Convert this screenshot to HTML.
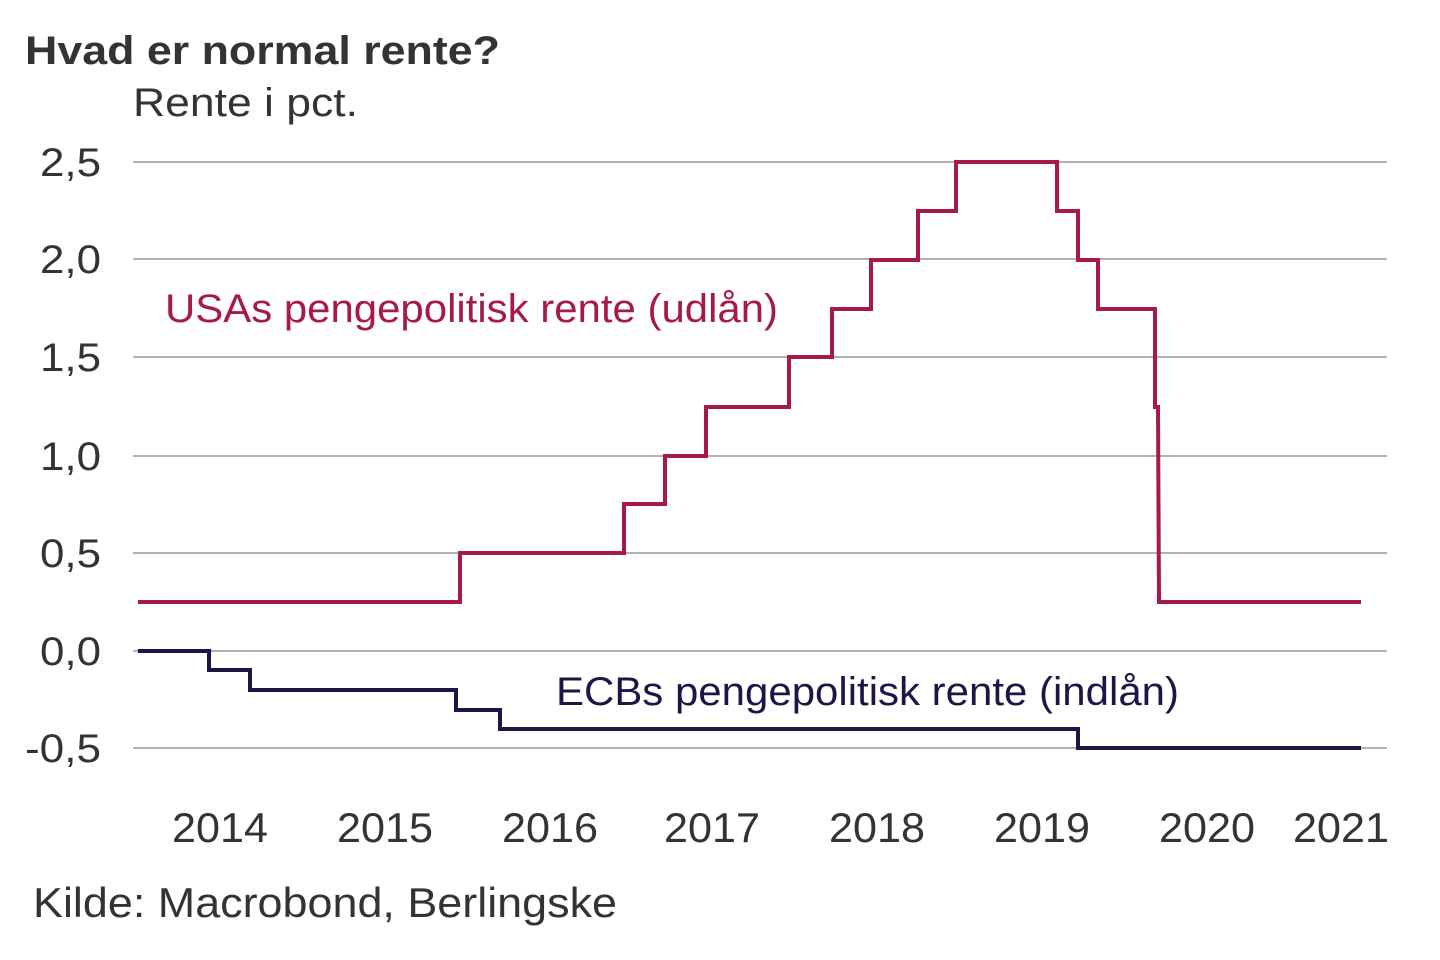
<!DOCTYPE html>
<html><head><meta charset="utf-8"><style>
html,body{margin:0;padding:0;background:#fff;}
svg{display:block;font-family:"Liberation Sans",Arial,sans-serif;}
</style></head><body>
<svg width="1440" height="960" viewBox="0 0 1440 960" xmlns="http://www.w3.org/2000/svg">
<rect width="1440" height="960" fill="#fff"/>
<text x="25" y="64" font-size="40" font-weight="bold" fill="#333" textLength="475" lengthAdjust="spacingAndGlyphs">Hvad er normal rente?</text>
<text x="133" y="116" font-size="40" fill="#333" textLength="225" lengthAdjust="spacingAndGlyphs">Rente i pct.</text>
<g stroke="#999" stroke-width="1.5">
<line x1="133" y1="162" x2="1387" y2="162"/>
<line x1="133" y1="259" x2="1387" y2="259"/>
<line x1="133" y1="357" x2="1387" y2="357"/>
<line x1="133" y1="456" x2="1387" y2="456"/>
<line x1="133" y1="553" x2="1387" y2="553"/>
<line x1="133" y1="651" x2="1387" y2="651"/>
<line x1="133" y1="748" x2="1387" y2="748"/>
</g>
<g font-size="40" fill="#333">
<text x="40" y="176" textLength="61" lengthAdjust="spacingAndGlyphs">2,5</text>
<text x="40" y="273" textLength="61" lengthAdjust="spacingAndGlyphs">2,0</text>
<text x="40" y="371" textLength="61" lengthAdjust="spacingAndGlyphs">1,5</text>
<text x="40" y="470" textLength="61" lengthAdjust="spacingAndGlyphs">1,0</text>
<text x="40" y="567" textLength="61" lengthAdjust="spacingAndGlyphs">0,5</text>
<text x="40" y="665" textLength="61" lengthAdjust="spacingAndGlyphs">0,0</text>
<text x="25" y="762" textLength="76" lengthAdjust="spacingAndGlyphs">-0,5</text>
</g>
<g font-size="42" fill="#333">
<text x="172" y="842" textLength="96" lengthAdjust="spacingAndGlyphs">2014</text>
<text x="337" y="842" textLength="96" lengthAdjust="spacingAndGlyphs">2015</text>
<text x="502" y="842" textLength="96" lengthAdjust="spacingAndGlyphs">2016</text>
<text x="664" y="842" textLength="96" lengthAdjust="spacingAndGlyphs">2017</text>
<text x="829" y="842" textLength="96" lengthAdjust="spacingAndGlyphs">2018</text>
<text x="994" y="842" textLength="96" lengthAdjust="spacingAndGlyphs">2019</text>
<text x="1159" y="842" textLength="96" lengthAdjust="spacingAndGlyphs">2020</text>
<text x="1293" y="842" textLength="96" lengthAdjust="spacingAndGlyphs">2021</text>
</g>
<polyline fill="none" stroke="#a61a45" stroke-width="4" points="138,602 460,602 460,553 624,553 624,504 665,504 665,456 706,456 706,407 789,407 789,357 832,357 832,309 871,309 871,260 918,260 918,211 956,211 956,162 1057,162 1057,211 1078,211 1078,260 1098,260 1098,309 1155,309 1155,407 1158,407 1159,602 1361,602"/>
<polyline fill="none" stroke="#1c1646" stroke-width="4" points="138,651 209,651 209,670 250,670 250,690 456,690 456,710 500,710 500,729 1078,729 1078,748 1361,748"/>
<text x="165" y="322" font-size="40" fill="#a61a45" textLength="613" lengthAdjust="spacingAndGlyphs">USAs pengepolitisk rente (udlån)</text>
<text x="556" y="705" font-size="40" fill="#1c1646" textLength="623" lengthAdjust="spacingAndGlyphs">ECBs pengepolitisk rente (indlån)</text>
<text x="33" y="917" font-size="42" fill="#333" textLength="584" lengthAdjust="spacingAndGlyphs">Kilde: Macrobond, Berlingske</text>
</svg>
</body></html>
